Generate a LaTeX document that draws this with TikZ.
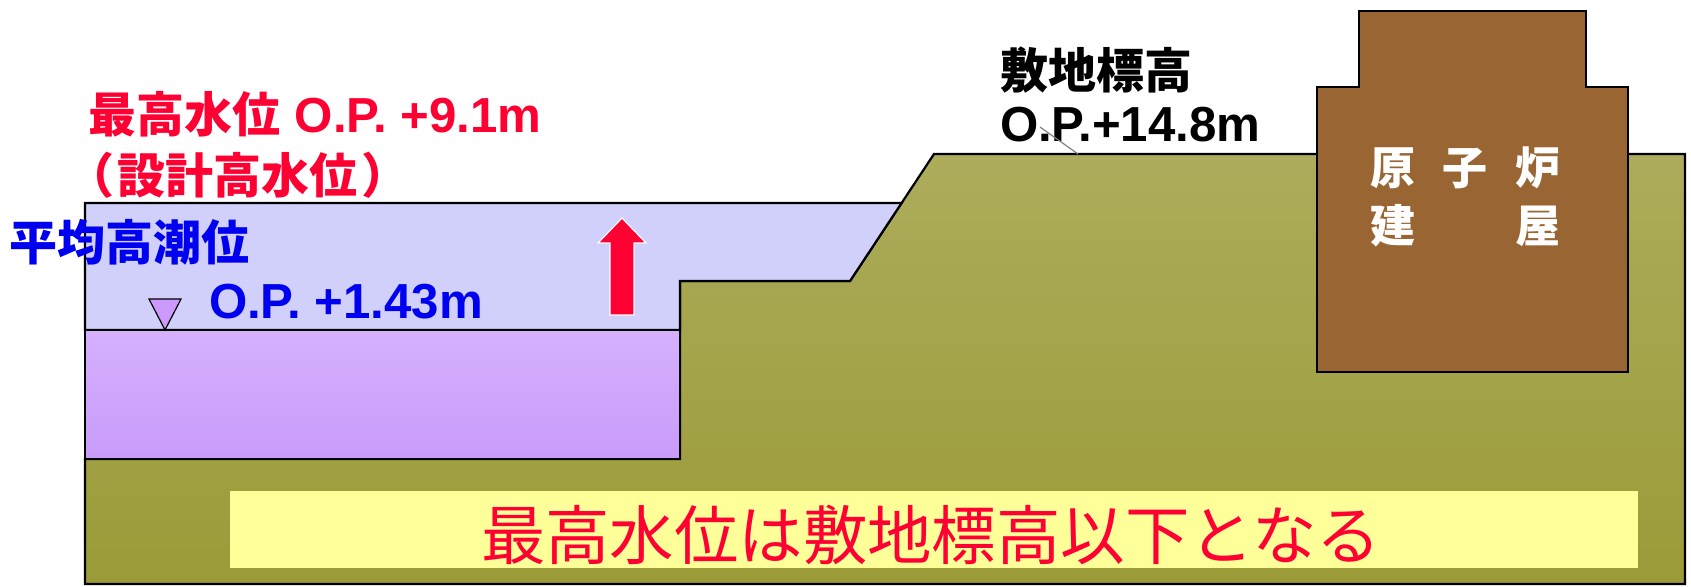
\documentclass[tikz,border=0pt]{standalone}
\usepackage{fontspec}
\newfontfamily\jp{Noto Sans CJK JP}
\newfontfamily\jpp{Noto Sans CJK JP}[RawFeature=+palt]
\newfontfamily\lat{Liberation Sans}
\definecolor{redtxt}{RGB}{255,0,51}
\definecolor{bluetxt}{RGB}{0,0,240}
\definecolor{waterup}{RGB}{208,208,250}
\definecolor{watertop}{RGB}{214,176,255}
\definecolor{waterbot}{RGB}{200,155,249}
\definecolor{groundtop}{RGB}{172,172,92}
\definecolor{groundbot}{RGB}{155,155,56}
\definecolor{bldg}{RGB}{153,102,51}
\definecolor{note}{RGB}{255,255,153}
\definecolor{tri}{RGB}{204,153,255}
\newcommand{\jpl}{\fontsize{24}{28}\selectfont\jpp\bfseries}
\newcommand{\latl}{\fontsize{24.6}{28}\selectfont\lat\bfseries}
\tikzset{
  outline/.style={draw=black,line width=1.1pt,line join=miter},
  lbl/.style={inner sep=0pt,outer sep=0pt},
  bldtxt/.style={inner sep=0pt,outer sep=0pt,text=white,font=\fontsize{22.5}{27}\selectfont\jp\bfseries,anchor=base},
  bigtxt/.style={inner sep=0pt,outer sep=0pt,text=redtxt,font=\fontsize{32.2}{36}\selectfont\jp}
}
\begin{document}
\begin{tikzpicture}[x=0.5pt,y=-0.5pt]
\useasboundingbox (0,0) rectangle (1691,586);
% ground
\path[outline,top color=groundtop,bottom color=groundbot]
  (85,459) -- (680,459) -- (680,281) -- (850,281) -- (934,154) -- (1685,154) -- (1685,584) -- (85,584) -- cycle;
% upper water
\path[outline,fill=waterup]
  (85,203) -- (901.6,203) -- (850,281) -- (680,281) -- (680,330) -- (85,330) -- cycle;
% lower water
\path[outline,line width=1.4pt,top color=watertop,bottom color=waterbot]
  (85,330) rectangle (680,459);
% building
\path[outline,fill=bldg]
  (1317,372) -- (1317,87) -- (1359,87) -- (1359,11) -- (1586,11) -- (1586,87) -- (1628,87) -- (1628,372) -- cycle;
% yellow note
\path[fill=note] (230,491) rectangle (1638,568);
% water level mark
\path[draw=black,line width=0.6pt,fill=tri] (149,299) -- (181,299) -- (165,330) -- cycle;
% red arrow
\path[fill=redtxt,draw=white,line width=0.6pt]
  (610,315) -- (610,243) -- (598,243) -- (622,218) -- (646,243) -- (634,243) -- (634,315) -- cycle;
% labels
\node[lbl,text=redtxt,anchor=base west] (maxlvl) at (88,132)
  {{\jpl 最高水位}{\latl\hspace{0.3em}O.P. +9.1m}};
\node[lbl,text=redtxt,anchor=base west] (design) at (88,193)
  {{\jpl （\hspace{0.12em}設計高水位\hspace{0.12em}）}};
\node[lbl,text=bluetxt,anchor=base west] (mhw) at (10,260)
  {{\jpl 平均高潮位}};
\node[lbl,text=bluetxt,anchor=base west] (mhwop) at (209,318)
  {{\latl O.P. +1.43m}};
\node[lbl,text=black,anchor=base west] (site) at (1000,88)
  {{\jpl 敷地標高}};
\node[lbl,text=black,anchor=base west] (siteop) at (1000,141)
  {{\latl O.P.+14.8m}};
\coordinate (leadA) at (1040,127);
\coordinate (leadB) at (1078,154);
\draw[gray,line width=0.6pt] (leadA) -- (leadB);
% building text
\node[bldtxt] (b1) at (1392.5,184) {原};
\node[bldtxt] (b2) at (1465,184) {子};
\node[bldtxt] (b3) at (1537.5,184) {炉};
\node[bldtxt] (b4) at (1392.5,242) {建};
\node[bldtxt] (b5) at (1537.5,242) {屋};
% note text
\node[bigtxt,anchor=base] (concl) at (931,559) {最高水位は敷地標高以下となる};
\end{tikzpicture}
\end{document}
